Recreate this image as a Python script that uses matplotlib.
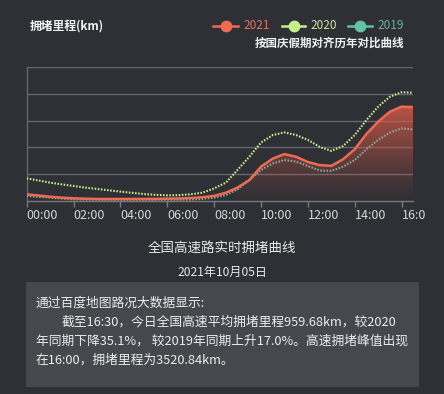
import numpy as np
import matplotlib
matplotlib.use("Agg")
import matplotlib.pyplot as plt
from matplotlib.lines import Line2D
from matplotlib.patches import Rectangle
from matplotlib.transforms import Bbox, TransformedBbox, IdentityTransform

plt.rcParams['font.family'] = ['Noto Sans CJK SC', 'DejaVu Sans']

# ---------------- data ----------------
times = ["00:00", "00:30", "01:00", "01:30", "02:00", "02:30", "03:00", "03:30",
         "04:00", "04:30", "05:00", "05:30", "06:00", "06:30", "07:00", "07:30",
         "08:00", "08:30", "09:00", "09:30", "10:00", "10:30", "11:00", "11:30",
         "12:00", "12:30", "13:00", "13:30", "14:00", "14:30", "15:00", "15:30",
         "16:00", "16:30"]
y2021 = [250, 205, 160, 125, 100, 85, 75, 75, 75, 75, 75, 78, 87, 95, 110, 140,
         190, 310, 500, 780, 1280, 1580, 1750, 1650, 1455, 1340, 1310, 1555,
         1930, 2500, 2960, 3330, 3520.84, 3505]
y2020 = [845, 765, 685, 620, 560, 500, 450, 400, 350, 305, 260, 230, 210, 220,
         250, 310, 470, 685, 1160, 1650, 2180, 2460, 2560, 2460, 2280, 2020,
         1870, 2050, 2460, 3020, 3520, 3890, 4060, 4040]
y2019 = [190, 155, 125, 90, 60, 55, 50, 50, 50, 50, 50, 50, 50, 50, 55, 80,
         125, 225, 435, 780, 1160, 1400, 1530, 1470, 1305, 1140, 1125, 1280,
         1530, 1930, 2280, 2550, 2710, 2670]
tick_labels = ["00:00", "02:00", "04:00", "06:00", "08:00", "10:00", "12:00",
               "14:00", "16:00"]
series_names = ["2021", "2020", "2019"]

BG = "#2f3035"
C21 = "#ef6a53"
C20 = "#c6f08a"
C19 = "#62c2a2"

W, H = 444, 394
fig = plt.figure(figsize=(W / 100, H / 100), dpi=100)
fig.patch.set_facecolor(BG)

def fx(x):
    return x / W

def fy(y):
    return 1 - y / H

# axes: x from 26.7 to 413.3 px, y from 67 to 201 px
ax = fig.add_axes([fx(26.7), fy(201), fx(413.3) - fx(26.7), fy(67) - fy(201)])
ax.set_facecolor(BG)

def tnum(s):
    h, m = s.split(":")
    return int(h) + int(m) / 60.0

xs = np.array([tnum(t) for t in times])
a21 = np.array(y2021)
a20 = np.array(y2020)
a19 = np.array(y2019)

ax.set_xlim(xs[0], xs[-1])
ax.set_ylim(0, 5000)

# grid
for v in [1000, 2000, 3000, 4000, 5000]:
    ax.axhline(v, color="#66676c", lw=1.0, zorder=1)

# gradient fill under 2021
poly = ax.fill_between(xs, 0, a21, color="none", zorder=2)
ngrad = 256
grad = np.zeros((ngrad, 2, 4))
rgb = matplotlib.colors.to_rgb("#d85a48")
grad[:, :, 0] = rgb[0]
grad[:, :, 1] = rgb[1]
grad[:, :, 2] = rgb[2]
alphas = 0.82 * np.linspace(1.0, 0.0, ngrad) ** 1.2
grad[:, :, 3] = alphas[:, None]
im = ax.imshow(grad, extent=[xs[0], xs[-1], 0, a21.max()], origin="upper",
               aspect="auto", zorder=2, interpolation="bilinear")
path = poly.get_paths()[0]
im.set_clip_path(path, transform=ax.transData)

ax.plot(xs, a19, color="#8fa99d", lw=1.5, linestyle=(0, (0.75, 0.75)), zorder=3,
        dash_capstyle="butt")
ax.plot(xs, a20, color=C20, lw=1.5, linestyle=(0, (0.75, 0.75)), zorder=4,
        dash_capstyle="butt")
ax.plot(xs, a21, color=C21, lw=1.8, zorder=5)

ax.set_ylim(0, 5000)
ax.set_xlim(xs[0], xs[-1])

for s in ["top", "right"]:
    ax.spines[s].set_visible(False)
ax.spines["left"].set_color("#66676c")
ax.spines["bottom"].set_color("#77787c")
ax.spines["left"].set_linewidth(1.0)
ax.spines["bottom"].set_linewidth(1.0)
ax.set_yticks([])
ax.set_xticks([tnum(t) for t in tick_labels])
ax.set_xticklabels(tick_labels, ha="left")
ax.tick_params(axis="x", colors="#77787c", length=4, width=1, labelcolor="#d6d6d6",
               labelsize=9, pad=2)

fig.canvas.draw()
clip = TransformedBbox(Bbox([[0, 0], [425, H]]), IdentityTransform())
for lab in ax.get_xticklabels():
    lab.set_clip_box(clip)
    lab.set_clip_on(True)

# title and legend
fig.text(fx(30), fy(26), "拥堵里程(km)", color="#f2f2f2", fontsize=8.5,
         fontweight="bold", va="center", ha="left")

leg = [(213, 238, 243, "2021", C21, "#e07262"),
       (282, 305, 310, "2020", C20, "#cde69a"),
       (348, 372, 377, "2019", C19, "#69b39c")]
for x0, x1, xt, name, c, tc in leg:
    fig.add_artist(Line2D([fx(x0), fx(x1)], [fy(25.7), fy(25.7)], color=c, lw=1.8,
                          marker=None, transform=fig.transFigure))
    fig.add_artist(Line2D([fx((x0 + x1) / 2)], [fy(25.7)], color=c, marker="o",
                          markersize=7.5, transform=fig.transFigure))
    fig.text(fx(xt), fy(25.7), name, color=tc, fontsize=8.5, va="center", ha="left")

fig.text(fx(404), fy(43), "按国庆假期对齐历年对比曲线", color="#f0f0f0", fontsize=8.3,
         fontweight="bold", va="center", ha="right")

# bottom texts
fig.text(fx(222), fy(248), "全国高速路实时拥堵曲线", color="#e8e8e8", fontsize=9.7,
         va="center", ha="center")
fig.text(fx(222), fy(272), "2021年10月05日", color="#e8e8e8", fontsize=8.7,
         va="center", ha="center")

fig.add_artist(Rectangle((fx(26), fy(387)), fx(419) - fx(26), fy(282) - fy(387),
                         transform=fig.transFigure, facecolor="#45484d",
                         edgecolor="none", zorder=0))

lines = [(35.7, 302.7, "通过百度地图路况大数据显示:"),
         (61.7, 321.7, "截至16:30，今日全国高速平均拥堵里程959.68km，较2020"),
         (35.7, 341.0, "年同期下降35.1%， 较2019年同期上升17.0%。高速拥堵峰值出现"),
         (35.7, 360.0, "在16:00，拥堵里程为3520.84km。")]
for x, y, s in lines:
    fig.text(fx(x), fy(y), s, color="#ececec", fontsize=9.2, va="center", ha="left")

fig.savefig("out.png", dpi=100, facecolor=BG)
